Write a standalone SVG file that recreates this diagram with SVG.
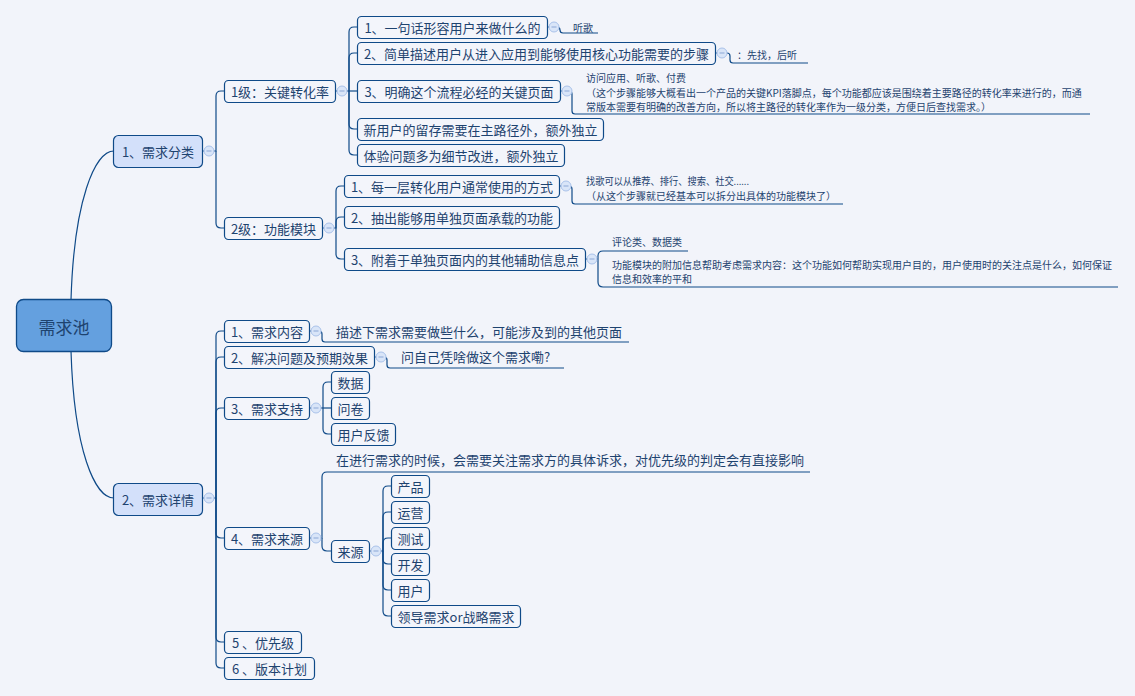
<svg xmlns="http://www.w3.org/2000/svg" width="1135" height="696" viewBox="0 0 1135 696">
<style>
text{font-family:"Noto Sans CJK SC","Noto Sans",sans-serif;fill:#1e436f;dominant-baseline:central}
.t13{font-size:13px}
.t10{font-size:10px}
.t17{font-size:17px}
.m{text-anchor:middle}
.box{fill:#f3f5fb;stroke:#0f4a88;stroke-width:1.2}
.br{fill:#d3e0fa;stroke:#0f4a88;stroke-width:1.2}
.root{fill:#64a0df;stroke:#0f4a88;stroke-width:1.3}
.conn{fill:none;stroke:#0f4a88;stroke-width:1.2}
.ul{fill:none;stroke:#0f4a88;stroke-width:1.2}
</style>
<defs>
<g id="tog"><circle r="5" fill="#d9e5f8" stroke="#a9c2ea" stroke-width="1"/><line x1="-2.5" y1="0" x2="2.5" y2="0" stroke="#8ba7d6" stroke-width="1"/></g>
</defs>
<rect width="1135" height="696" fill="#f2f4fa"/>

<g id="connectors">
<path class="conn" d="M71,300 C74,200 95,151 114,151"/>
<path class="conn" d="M71,351 C74,451 95,498 114,498"/>
<path class="conn" d="M202,151 H216 V96 Q216,91 221,91 H225"/>
<path class="conn" d="M216,151 V223 Q216,228 221,228 H225"/>
<path class="conn" d="M335,91 H358"/>
<path class="conn" d="M349,91 V32 Q349,27 354,27 H358"/>
<path class="conn" d="M349,91 V58 Q349,53 354,53 H358"/>
<path class="conn" d="M349,91 V124 Q349,129 354,129 H358"/>
<path class="conn" d="M349,91 V150 Q349,155 354,155 H358"/>
<path class="conn" d="M322,228 H336 V191 Q336,186 341,186 H345"/>
<path class="conn" d="M336,228 V222 Q336,217 341,217 H345"/>
<path class="conn" d="M336,228 V254 Q336,259 341,259 H345"/>
<path class="conn" d="M547,27 H557 Q560,27 560,30 Q560,33 563,33"/>
<path class="conn" d="M715,53 H727 Q730,53 730,56 V60 Q730,63 733,63"/>
<path class="conn" d="M560,91 H569 Q572,91 572,94 V111 Q572,114 575,114"/>
<path class="conn" d="M559,186 H569 Q572,186 572,189 V201 Q572,204 575,204"/>
<path class="conn" d="M585,259 H598"/>
<path class="conn" d="M603,251 Q598,251 598,256 V282 Q598,287 603,287"/>
<path class="conn" d="M202,498 H216 V336 Q216,331 221,331 H225"/>
<path class="conn" d="M216,498 V362 Q216,357 221,357 H225"/>
<path class="conn" d="M216,498 V413 Q216,408 221,408 H225"/>
<path class="conn" d="M216,498 V533 Q216,538 221,538 H225"/>
<path class="conn" d="M216,498 V637 Q216,642 221,642 H225"/>
<path class="conn" d="M216,498 V663 Q216,668 221,668 H225"/>
<path class="conn" d="M309,331 H319 Q322,331 322,334 V339 Q322,342 325,342"/>
<path class="conn" d="M374,357 H384 Q387,357 387,360 V365 Q387,368 390,368"/>
<path class="conn" d="M309,408 H331"/>
<path class="conn" d="M323,408 V387 Q323,382 328,382 H331"/>
<path class="conn" d="M323,408 V429 Q323,434 328,434 H331"/>
<path class="conn" d="M309,538 H322 V477 Q322,472 327,472"/>
<path class="conn" d="M322,538 V546 Q322,551 327,551 H331"/>
<path class="conn" d="M369,551 H383 V491 Q383,486 388,486 H391"/>
<path class="conn" d="M383,551 V517 Q383,512 388,512 H391"/>
<path class="conn" d="M383,551 V543 Q383,538 388,538 H391"/>
<path class="conn" d="M383,551 V559 Q383,564 388,564 H391"/>
<path class="conn" d="M383,551 V585 Q383,590 388,590 H391"/>
<path class="conn" d="M383,551 V611 Q383,616 388,616 H391"/>
</g>

<g id="root"><rect class="root" x="16.5" y="299.5" width="95" height="52" rx="7"/><text class="t17 m" x="64" y="326">需求池</text></g>

<g id="b1"><rect class="br" x="113.5" y="135.5" width="89" height="32" rx="5"/><text class="t13 m" x="158" y="151.5">1、需求分类</text><use href="#tog" x="209" y="151"/></g>
<g id="b2"><rect class="br" x="113.5" y="483.5" width="89" height="32" rx="5"/><text class="t13 m" x="158" y="499.5">2、需求详情</text><use href="#tog" x="209" y="498"/></g>

<g id="l1a"><rect class="box" x="224.5" y="80.5" width="111" height="22" rx="4"/><text class="t13 m" x="280" y="91.5">1级：关键转化率</text><use href="#tog" x="342" y="91"/></g>
<g id="l1b"><rect class="box" x="224.5" y="217.5" width="98" height="22" rx="4"/><text class="t13 m" x="273.5" y="228.5">2级：功能模块</text><use href="#tog" x="329" y="228"/></g>

<g id="n1"><rect class="box" x="357.5" y="16.5" width="190" height="22" rx="4"/><text class="t13 m" x="452.5" y="27.5">1、一句话形容用户来做什么的</text><use href="#tog" x="554" y="27"/></g>
<g id="n1note"><line class="ul" x1="563" y1="33" x2="598" y2="33"/><text class="t10" x="573" y="27">听歌</text></g>
<g id="n2"><rect class="box" x="357.5" y="42.5" width="358" height="22" rx="4"/><text class="t13 m" x="536.5" y="53.5">2、简单描述用户从进入应用到能够使用核心功能需要的步骤</text><use href="#tog" x="722" y="53"/></g>
<g id="n2note"><line class="ul" x1="733" y1="63" x2="808" y2="63"/><text class="t10" x="737" y="54">：先找，后听</text></g>
<g id="n3"><rect class="box" x="357.5" y="80.5" width="203" height="22" rx="4"/><text class="t13 m" x="459" y="91.5">3、明确这个流程必经的关键页面</text><use href="#tog" x="567" y="91"/></g>
<g id="n3note"><line class="ul" x1="575" y1="114" x2="1090" y2="114"/>
<text class="t10" x="586" y="77">访问应用、听歌、付费</text>
<text class="t10" x="586" y="92">（这个步骤能够大概看出一个产品的关键KPI落脚点，每个功能都应该是围绕着主要路径的转化率来进行的，而通</text>
<text class="t10" x="586" y="106">常版本需要有明确的改善方向，所以将主路径的转化率作为一级分类，方便日后查找需求。）</text></g>
<g id="n4"><rect class="box" x="357.5" y="118.5" width="246" height="22" rx="4"/><text class="t13 m" x="480.5" y="129.5">新用户的留存需要在主路径外，额外独立</text></g>
<g id="n5"><rect class="box" x="357.5" y="144.5" width="207" height="22" rx="4"/><text class="t13 m" x="461" y="155.5">体验问题多为细节改进，额外独立</text></g>

<g id="m1"><rect class="box" x="344.5" y="175.5" width="215" height="22" rx="4"/><text class="t13 m" x="452" y="186.5">1、每一层转化用户通常使用的方式</text><use href="#tog" x="566" y="186"/></g>
<g id="m1note"><line class="ul" x1="575" y1="204" x2="843" y2="204"/>
<text class="t10" x="586" y="180" textLength="163" lengthAdjust="spacingAndGlyphs">找歌可以从推荐、排行、搜索、社交......</text>
<text class="t10" x="586" y="195">（从这个步骤就已经基本可以拆分出具体的功能模块了）</text></g>
<g id="m2"><rect class="box" x="344.5" y="206.5" width="215" height="22" rx="4"/><text class="t13 m" x="452" y="217.5">2、抽出能够用单独页面承载的功能</text></g>
<g id="m3"><rect class="box" x="344.5" y="248.5" width="241" height="22" rx="4"/><text class="t13 m" x="465" y="259.5">3、附着于单独页面内的其他辅助信息点</text><use href="#tog" x="592" y="259"/></g>
<g id="m3noteA"><line class="ul" x1="603" y1="251" x2="688" y2="251"/><text class="t10" x="612" y="241">评论类、数据类</text></g>
<g id="m3noteB"><line class="ul" x1="603" y1="287" x2="1118" y2="287"/>
<text class="t10" x="612" y="264">功能模块的附加信息帮助考虑需求内容：这个功能如何帮助实现用户目的，用户使用时的关注点是什么，如何保证</text>
<text class="t10" x="612" y="278">信息和效率的平和</text></g>

<g id="d1"><rect class="box" x="224.5" y="320.5" width="85" height="22" rx="4"/><text class="t13 m" x="267" y="331.5">1、需求内容</text><use href="#tog" x="316" y="331"/></g>
<g id="d1note"><line class="ul" x1="325" y1="342" x2="629" y2="342"/><text class="t13" x="336" y="331">描述下需求需要做些什么，可能涉及到的其他页面</text></g>
<g id="d2"><rect class="box" x="224.5" y="346.5" width="150" height="22" rx="4"/><text class="t13 m" x="299.5" y="357.5">2、解决问题及预期效果</text><use href="#tog" x="381" y="357"/></g>
<g id="d2note"><line class="ul" x1="390" y1="368" x2="564" y2="368"/><text class="t13" x="401" y="356">问自己凭啥做这个需求嘞?</text></g>
<g id="d3"><rect class="box" x="224.5" y="397.5" width="85" height="22" rx="4"/><text class="t13 m" x="267" y="408.5">3、需求支持</text><use href="#tog" x="316" y="408"/></g>
<g id="s1"><rect class="box" x="331.5" y="371.5" width="38" height="22" rx="4"/><text class="t13 m" x="350.5" y="382.5">数据</text></g>
<g id="s2"><rect class="box" x="331.5" y="397.5" width="38" height="22" rx="4"/><text class="t13 m" x="350.5" y="408.5">问卷</text></g>
<g id="s3"><rect class="box" x="331.5" y="423.5" width="64" height="22" rx="4"/><text class="t13 m" x="363.5" y="434.5">用户反馈</text></g>
<g id="d4"><rect class="box" x="224.5" y="527.5" width="85" height="22" rx="4"/><text class="t13 m" x="267" y="538.5">4、需求来源</text><use href="#tog" x="316" y="538"/></g>
<g id="d4note"><line class="ul" x1="327" y1="472" x2="810" y2="472"/><text class="t13" x="336" y="459">在进行需求的时候，会需要关注需求方的具体诉求，对优先级的判定会有直接影响</text></g>
<g id="src"><rect class="box" x="331.5" y="540.5" width="38" height="22" rx="4"/><text class="t13 m" x="350.5" y="551.5">来源</text><use href="#tog" x="376" y="551"/></g>
<g id="r1"><rect class="box" x="391.5" y="475.5" width="38" height="22" rx="4"/><text class="t13 m" x="410.5" y="486.5">产品</text></g>
<g id="r2"><rect class="box" x="391.5" y="501.5" width="38" height="22" rx="4"/><text class="t13 m" x="410.5" y="512.5">运营</text></g>
<g id="r3"><rect class="box" x="391.5" y="527.5" width="38" height="22" rx="4"/><text class="t13 m" x="410.5" y="538.5">测试</text></g>
<g id="r4"><rect class="box" x="391.5" y="553.5" width="38" height="22" rx="4"/><text class="t13 m" x="410.5" y="564.5">开发</text></g>
<g id="r5"><rect class="box" x="391.5" y="579.5" width="38" height="22" rx="4"/><text class="t13 m" x="410.5" y="590.5">用户</text></g>
<g id="r6"><rect class="box" x="391.5" y="605.5" width="129" height="22" rx="4"/><text class="t13 m" x="456" y="616.5">领导需求or战略需求</text></g>
<g id="d5"><rect class="box" x="224.5" y="631.5" width="77" height="22" rx="4"/><text class="t13 m" x="263" y="642.5">5 、优先级</text></g>
<g id="d6"><rect class="box" x="224.5" y="657.5" width="90" height="22" rx="4"/><text class="t13 m" x="269.5" y="668.5">6 、版本计划</text></g>
</svg>
